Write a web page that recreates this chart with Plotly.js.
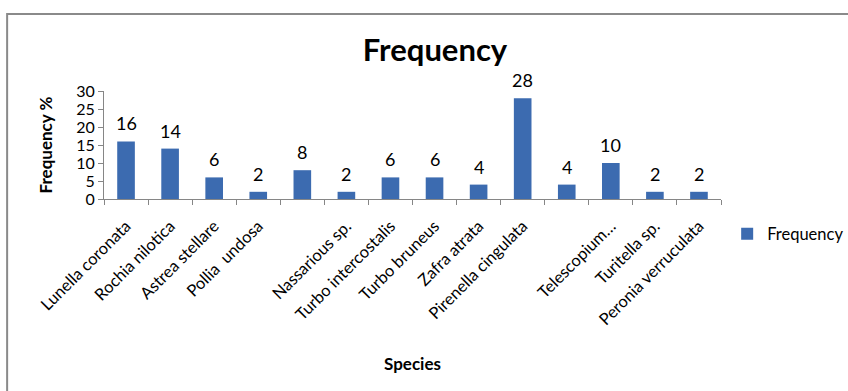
<!DOCTYPE html>
<html>
<head>
<meta charset="utf-8">
<script src="https://cdn.plot.ly/plotly-3.0.1.min.js"></script>
<style>
  html, body { margin: 0; padding: 0; background: #ffffff; }
  #chart { width: 848px; height: 391px; }
</style>
</head>
<body>
<div id="chart"></div>
<script>
// Gastropod species and their frequency (%)
const species = [
  "Lunella coronata", "Rochia nilotica", "Astrea stellare", "Pollia  undosa",
  "", "Nassarious sp.", "Turbo intercostalis", "Turbo bruneus",
  "Zafra atrata", "Pirenella cingulata", "", "Telescopium…",
  "Turitella sp.", "Peronia verruculata"
];
const frequency = [16, 14, 6, 2, 8, 2, 6, 6, 4, 28, 4, 10, 2, 2];
const yTicks = [0, 5, 10, 15, 20, 25, 30];

const positions = species.map((_, i) => i);
const FONT = "Lato, 'Noto Sans', sans-serif";
const BLUE = "#3C6BB0";

const trace = {
  type: "bar",
  name: "Frequency",
  x: positions,
  y: frequency,
  width: 0.4,
  marker: { color: BLUE },
  hoverinfo: "skip"
};

// value labels sitting above each bar
const valueLabels = frequency.map((v, i) => ({
  x: i, y: v, xref: "x", yref: "y",
  text: String(v), showarrow: false,
  yanchor: "bottom", yshift: 5,
  font: { family: FONT, size: 18, color: "#000" }
}));

const layout = {
  width: 848, height: 391,
  margin: { l: 104, r: 127, t: 91, b: 192, autoexpand: false },
  paper_bgcolor: "#ffffff",
  plot_bgcolor: "#ffffff",
  font: { family: FONT, color: "#000" },
  title: {
    text: "<b>Frequency</b>",
    font: { family: FONT, size: 31, color: "#000" },
    xref: "container", x: 0.513, xanchor: "center",
    yref: "container", y: 0.872, yanchor: "middle"
  },
  xaxis: {
    range: [-0.5, 13.5],
    tickmode: "array",
    tickvals: positions,
    ticktext: species,
    tickangle: -45,
    ticks: "",
    ticklen: 0,
    ticklabelstandoff: 10,
    minor: { ticks: "outside", tick0: -0.5, dtick: 1, ticklen: 5, tickcolor: "#868686", tickwidth: 1 },
    tickfont: { family: FONT, size: 16.5, color: "#000" },
    showline: true, linecolor: "#868686", linewidth: 1,
    showgrid: false, zeroline: false,
    fixedrange: true,
    title: { text: "<b>Species</b>", font: { family: FONT, size: 17, color: "#000" }, standoff: 30 }
  },
  yaxis: {
    range: [0, 30],
    tickmode: "array",
    tickvals: yTicks,
    ticks: "outside", ticklen: 5, tickcolor: "#868686",
    tickfont: { family: FONT, size: 16, color: "#000" },
    showline: true, linecolor: "#868686", linewidth: 1,
    showgrid: false, zeroline: false,
    fixedrange: true,
    title: { text: "<b>Frequency %</b>", font: { family: FONT, size: 17, color: "#000" }, standoff: 19 }
  },
  showlegend: true,
  legend: {
    x: 1.01, xanchor: "left",
    y: -0.324, yanchor: "middle",
    font: { family: FONT, size: 16.5, color: "#000" },
    itemwidth: 30,
    bgcolor: "rgba(0,0,0,0)"
  },
  annotations: valueLabels,
  shapes: [{
    type: "rect", xref: "paper", yref: "paper", layer: "below",
    x0: -0.157, x1: 1.35, y0: -1.9, y1: 1.713,
    line: { color: "#8a8a8a", width: 2 }, fillcolor: "rgba(0,0,0,0)"
  }]
};

Plotly.newPlot("chart", [trace], layout, { displayModeBar: false, staticPlot: true });
</script>
</body>
</html>
